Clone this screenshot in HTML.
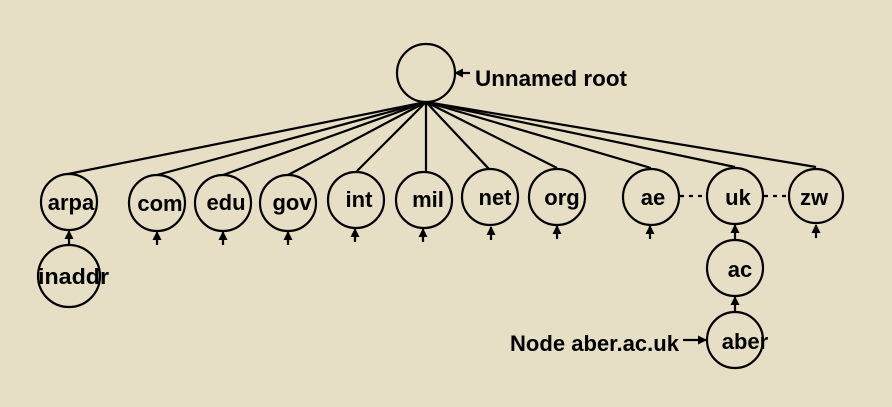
<!DOCTYPE html>
<html><head><meta charset="utf-8"><style>
html,body{margin:0;padding:0;background:#e6dec5;}
svg{display:block}
text{font-family:"Liberation Sans",Arial,sans-serif;font-weight:bold;fill:#000}
</style></head><body>
<svg width="892" height="407" viewBox="0 0 892 407" xmlns="http://www.w3.org/2000/svg">
<defs>
<marker id="ah" markerWidth="9" markerHeight="9" refX="8" refY="4.5" orient="auto" markerUnits="userSpaceOnUse">
<path d="M0,0 L9,4.5 L0,9 Z" fill="#000"/></marker>
</defs>
<g stroke="#000" stroke-width="2.2" fill="none">
<circle cx="426" cy="73" r="29"/>
<line x1="426" y1="102" x2="68" y2="174"/>
<line x1="426" y1="102" x2="157" y2="175"/>
<line x1="426" y1="102" x2="223" y2="175"/>
<line x1="426" y1="102" x2="288" y2="175"/>
<line x1="426" y1="102" x2="357" y2="171"/>
<line x1="426" y1="102" x2="426" y2="171"/>
<line x1="426" y1="102" x2="489" y2="169"/>
<line x1="426" y1="102" x2="557" y2="168"/>
<line x1="426" y1="102" x2="651" y2="168"/>
<line x1="426" y1="102" x2="735" y2="167"/>
<line x1="426" y1="102" x2="816" y2="167"/>
<circle cx="69" cy="202" r="28"/>
<circle cx="69" cy="276" r="31"/>
<circle cx="157" cy="203" r="28"/>
<circle cx="223" cy="203" r="28"/>
<circle cx="288" cy="203" r="28"/>
<circle cx="356" cy="200" r="28"/>
<circle cx="424" cy="200" r="28"/>
<circle cx="490" cy="197" r="28"/>
<circle cx="557" cy="197" r="28"/>
<circle cx="651" cy="197" r="28"/>
<circle cx="735" cy="196" r="28"/>
<circle cx="816" cy="196" r="27"/>
<circle cx="735" cy="268" r="28"/>
<circle cx="735" cy="340" r="28"/>
<line x1="680" y1="196" x2="706" y2="196" stroke-dasharray="4,5"/>
<line x1="764" y1="196" x2="789" y2="196" stroke-dasharray="4,5"/>
<line x1="69" y1="245" x2="69" y2="231" marker-end="url(#ah)"/>
<line x1="157" y1="245" x2="157" y2="232" marker-end="url(#ah)"/>
<line x1="223" y1="245" x2="223" y2="232" marker-end="url(#ah)"/>
<line x1="288" y1="245" x2="288" y2="232" marker-end="url(#ah)"/>
<line x1="355" y1="242" x2="355" y2="229" marker-end="url(#ah)"/>
<line x1="423" y1="242" x2="423" y2="229" marker-end="url(#ah)"/>
<line x1="491" y1="240" x2="491" y2="227" marker-end="url(#ah)"/>
<line x1="557" y1="239" x2="557" y2="226" marker-end="url(#ah)"/>
<line x1="650" y1="239" x2="650" y2="226" marker-end="url(#ah)"/>
<line x1="816" y1="238" x2="816" y2="225" marker-end="url(#ah)"/>
<line x1="735" y1="240" x2="735" y2="225" marker-end="url(#ah)"/>
<line x1="735" y1="312" x2="735" y2="297" marker-end="url(#ah)"/>
<line x1="470" y1="73" x2="455" y2="73" marker-end="url(#ah)"/>
<line x1="683" y1="340" x2="706" y2="340" marker-end="url(#ah)"/>
</g>
<g font-size="22">
<text x="475" y="86" textLength="152" lengthAdjust="spacingAndGlyphs">Unnamed root</text>
<text x="71" y="210" text-anchor="middle">arpa</text>
<text x="38" y="284" textLength="71" lengthAdjust="spacingAndGlyphs">inaddr</text>
<text x="160" y="211" text-anchor="middle">com</text>
<text x="226" y="210" text-anchor="middle">edu</text>
<text x="292" y="210" text-anchor="middle">gov</text>
<text x="359" y="207" text-anchor="middle">int</text>
<text x="428" y="207" text-anchor="middle">mil</text>
<text x="495" y="205" text-anchor="middle">net</text>
<text x="562" y="205" text-anchor="middle">org</text>
<text x="653" y="205" text-anchor="middle">ae</text>
<text x="738" y="205" text-anchor="middle">uk</text>
<text x="814" y="205" text-anchor="middle">zw</text>
<text x="740" y="277" text-anchor="middle">ac</text>
<text x="745" y="349" text-anchor="middle">aber</text>
<text x="510" y="351" textLength="169" lengthAdjust="spacingAndGlyphs">Node aber.ac.uk</text>
</g>
</svg>
</body></html>
